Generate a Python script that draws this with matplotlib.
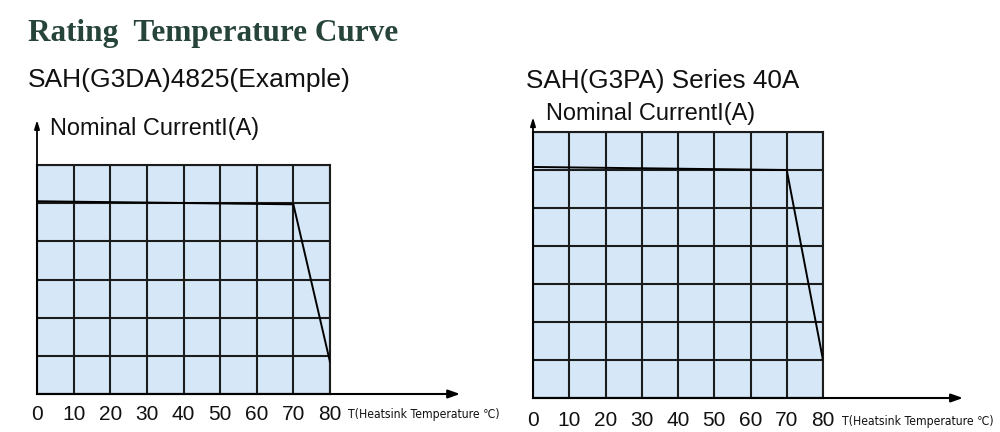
import matplotlib
matplotlib.use("Agg")
import matplotlib.pyplot as plt

# ---- data ----
temps = [0, 70, 80]
left_current = [5.05, 4.97, 0.84]
right_current = [6.08, 6.0, 1.0]
tick_vals = [0, 10, 20, 30, 40, 50, 60, 70, 80]
tick_labels = ["0", "10", "20", "30", "40", "50", "60", "70", "80"]
main_title = "Rating  Temperature Curve"
left_title = "SAH(G3DA)4825(Example)"
right_title = "SAH(G3PA) Series 40A"
ylabel = "Nominal CurrentI(A)"
xlabel = "T(Heatsink Temperature \u2103)"

W, H = 1000, 432
fig = plt.figure(figsize=(W / 100, H / 100), dpi=100)
fig.patch.set_facecolor("white")

GRID = "#1c1c1c"
FILL = "#d6e7f7"


def px_axes(x0, x1, ytop, ybot):
    return fig.add_axes([x0 / W, (H - ybot) / H, (x1 - x0) / W, (ybot - ytop) / H])


def panel(ax, nrows, cur, arrow_x, arrow_y, pad):
    ax.set_xlim(0, 80)
    ax.set_ylim(0, nrows)
    ax.set_facecolor(FILL)
    ax.set_xticks(tick_vals)
    ax.set_xticklabels(tick_labels, fontsize=15, family="Liberation Sans", color="#111111")
    ax.set_yticks(range(nrows + 1))
    ax.set_yticklabels([])
    ax.tick_params(length=0, pad=pad)
    ax.grid(True, color=GRID, linewidth=1.5)
    ax.set_axisbelow(False)
    for s in ax.spines.values():
        s.set_color(GRID)
        s.set_linewidth(1.5)
    ax.plot(temps, cur, color="black", linewidth=1.4, zorder=5)
    ax.annotate("", xy=(arrow_x, 0), xytext=(0, 0), annotation_clip=False,
                arrowprops=dict(arrowstyle="-|>,head_length=0.7,head_width=0.25",
                                color="black", lw=1.5, shrinkA=0, shrinkB=0))
    ax.annotate("", xy=(0, arrow_y), xytext=(0, 0), annotation_clip=False,
                arrowprops=dict(arrowstyle="-|>,head_length=0.5,head_width=0.15",
                                color="black", lw=1.3, shrinkA=0, shrinkB=0))


axL = px_axes(37, 330, 165, 394)
panel(axL, 6, left_current, 115.5, 7.18, 8)
axR = px_axes(533, 823, 132, 398)
panel(axR, 7, right_current, 118.6, 7.39, 9.5)

# texts
fig.text(28 / W, 1 - 41 / H, main_title, family="Liberation Serif", weight="bold",
         fontsize=22.5, color="#27443b", va="baseline", ha="left")
fig.text(28 / W, 1 - 87 / H, left_title, family="Liberation Sans", fontsize=19,
         color="#111111", va="baseline", ha="left")
fig.text(526 / W, 1 - 88 / H, right_title, family="Liberation Sans", fontsize=18.8,
         color="#111111", va="baseline", ha="left")
fig.text(50 / W, 1 - 135 / H, ylabel, family="Liberation Sans", fontsize=16.9,
         color="#111111", va="baseline", ha="left")
fig.text(546 / W, 1 - 120 / H, ylabel, family="Liberation Sans", fontsize=16.9,
         color="#111111", va="baseline", ha="left")
fig.text(348 / W, 1 - 418 / H, xlabel, family="DejaVu Sans", stretch="condensed",
         fontsize=8.7, color="#111111", va="baseline", ha="left")
fig.text(842 / W, 1 - 425 / H, xlabel, family="DejaVu Sans", stretch="condensed",
         fontsize=8.7, color="#111111", va="baseline", ha="left")

fig.savefig("out.png", dpi=100)
